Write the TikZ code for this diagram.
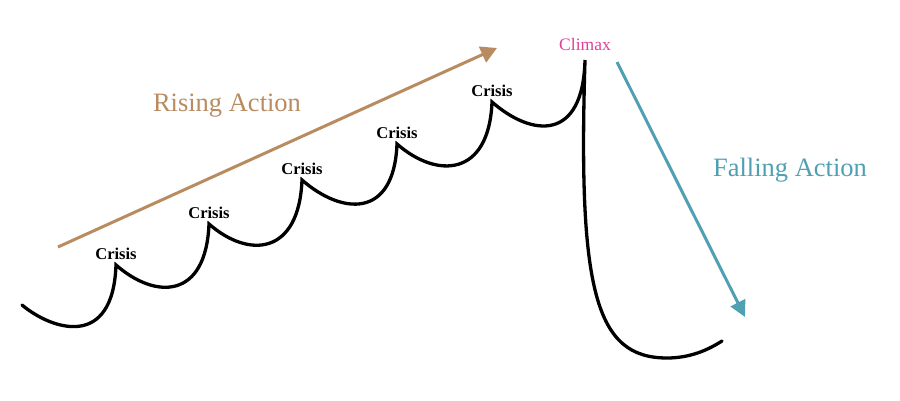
\documentclass[tikz,border=0pt]{standalone}
\usepackage{fontspec}
\setmainfont{Liberation Serif}
\usepackage{xcolor}
\usepackage{tikz}
\usetikzlibrary{arrows.meta, positioning}

\definecolor{risecol}{RGB}{184,139,96}
\definecolor{fallcol}{RGB}{78,160,178}
\definecolor{climaxcol}{RGB}{222,64,150}

\begin{document}
\begin{tikzpicture}[
  x=1pt, y=1pt,
  plotline/.style={line width=3.3pt, line cap=round, line join=miter},
  crisis/.style={font=\fontsize{16.5}{18}\selectfont\bfseries, inner sep=1pt},
  phase/.style={font=\fontsize{26.5}{30}\selectfont, inner sep=0pt},
  risearrow/.style={-{Triangle[length=16pt,width=17pt]}, line width=3pt, draw=risecol},
  fallarrow/.style={-{Triangle[length=16pt,width=16pt]}, line width=3pt, draw=fallcol}
]
\useasboundingbox (0,0) rectangle (900,400);

% points of the plot line
\coordinate (start) at (22,95);
\coordinate (c1) at (116,135);
\coordinate (c2) at (209,176);
\coordinate (c3) at (302,220);
\coordinate (c4) at (397,256);
\coordinate (c5) at (492,298);
\coordinate (peak) at (585,340);
\coordinate (bottom) at (667,42);
\coordinate (finish) at (722,59);

\draw[plotline] (start) .. controls +(30,-25) and +(-3,-85) .. (c1)
  .. controls +(40,-35) and +(-3,-75) .. (c2)
  .. controls +(40,-35) and +(-3,-75) .. (c3)
  .. controls +(40,-35) and +(-3,-75) .. (c4)
  .. controls +(40,-35) and +(-3,-75) .. (c5)
  .. controls +(40,-35) and +(-2,-82) .. (peak)
  .. controls (578,110) and (595,42) .. (bottom)
  .. controls (690,42) and (708,50) .. (finish);

\node[crisis, above=4pt of c1] (crisisA) {Crisis};
\node[crisis, above=4pt of c2] (crisisB) {Crisis};
\node[crisis, above=4pt of c3] (crisisC) {Crisis};
\node[crisis, above=4pt of c4] (crisisD) {Crisis};
\node[crisis, above=4pt of c5] (crisisE) {Crisis};
\node[font=\fontsize{17.5}{20}\selectfont, text=climaxcol, inner sep=1pt,
      above=8pt of peak] (climax) {Climax};

% phase arrows
\coordinate (riseA) at (58,153);
\coordinate (riseB) at (497,352);
\coordinate (fallA) at (617,338);
\coordinate (fallB) at (745,83);
\draw[risearrow] (riseA) -- (riseB);
\draw[fallarrow] (fallA) -- (fallB);

\node[phase, text=risecol] (rising) at (227,294) {Rising Action};
\node[phase, text=fallcol] (falling) at (790,230) {Falling Action};
\end{tikzpicture}
\end{document}
